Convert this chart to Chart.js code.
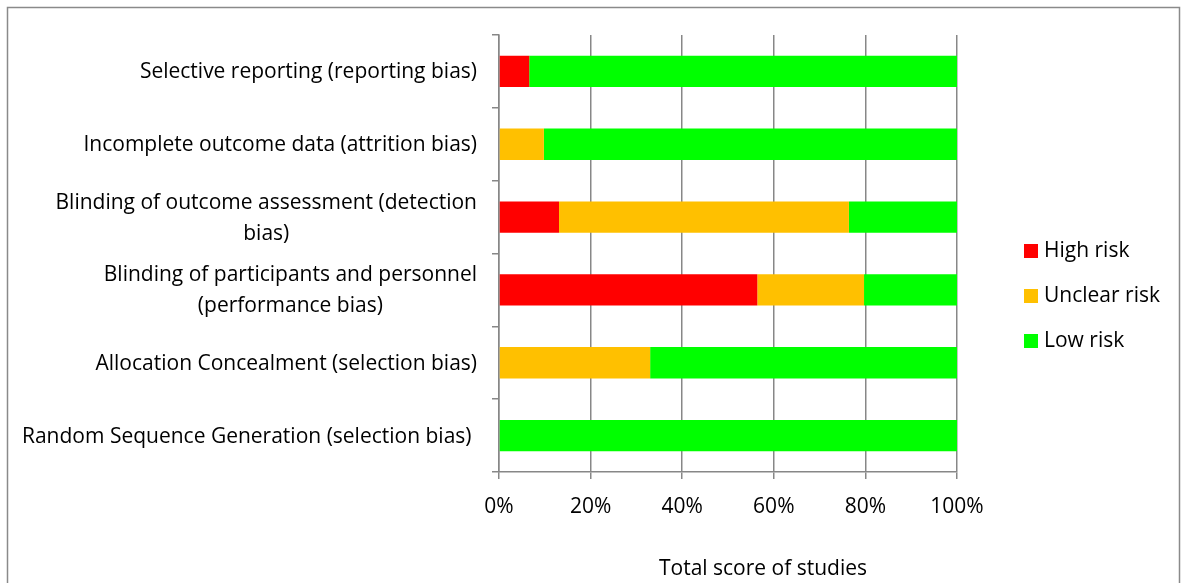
<!DOCTYPE html>
<html>
<head>
<meta charset="utf-8">
<script src="https://cdn.jsdelivr.net/npm/chart.js@4/dist/chart.umd.min.js"></script>
<style>
  html, body { margin: 0; padding: 0; background: #fff; }
  #riskChart { display: block; }
</style>
</head>
<body>
<canvas id="riskChart" width="1182" height="583"></canvas>
<script>
// domains, top to bottom
const domains = [
    'Selective reporting (reporting bias)',
    'Incomplete outcome data (attrition bias)',
    ['Blinding of outcome assessment (detection', 'bias)'],
    ['Blinding of participants and personnel', '(performance bias)'],
    'Allocation Concealment (selection bias)',
    'Random Sequence Generation (selection bias) '
];

// share of studies per judgement (%)
const highRisk    = [6.6, 0, 13.1, 56.4, 0, 0];
const unclearRisk = [0, 9.8, 63.3, 23.3, 33.0, 0];
const lowRisk     = [93.4, 90.2, 23.6, 20.3, 67.0, 100];

const percentTicks = [0, 20, 40, 60, 80, 100];
const axisTitle = 'Total score of studies';

const FONT = '"Open Sans", Carlito, Calibri, sans-serif';
const FONT_SIZE = 21;
const GRID = '#878787';

// frame, domain labels, legend and axis title
const decorations = {
    id: 'decorations',
    beforeDraw(chart) {
        const ctx = chart.ctx;
        ctx.save();
        ctx.strokeStyle = '#8a8a8a';
        ctx.lineWidth = 1.5;
        ctx.strokeRect(7.5, 7.5, 1172, 620);
        ctx.restore();
    },
    afterDraw(chart) {
        const ctx = chart.ctx;
        const yScale = chart.scales.y;
        ctx.save();
        ctx.fillStyle = '#000';
        ctx.font = FONT_SIZE + 'px ' + FONT;
        ctx.textBaseline = 'middle';
        ctx.textAlign = 'center';

        // category labels, right aligned block, lines centred
        chart.data.labels.forEach((label, i) => {
            const lines = Array.isArray(label) ? label : [label];
            const widest = Math.max(...lines.map(l => ctx.measureText(l).width));
            const cx = 477 - widest / 2;
            const yc = yScale.getPixelForValue(i) + 1;
            const step = 31;
            lines.forEach((line, k) => {
                ctx.fillText(line, cx, yc + (k - (lines.length - 1) / 2) * step);
            });
        });

        // legend
        ctx.textAlign = 'left';
        chart.data.datasets.forEach((ds, i) => {
            const y = 251 + i * 45;
            ctx.fillStyle = ds.backgroundColor;
            ctx.fillRect(1024, y - 7, 14, 14);
            ctx.fillStyle = '#000';
            ctx.fillText(ds.label, 1044, y);
        });

        // x axis title
        ctx.textAlign = 'center';
        ctx.fillText(axisTitle, 763, 569);
        ctx.restore();
    }
};

new Chart(document.getElementById('riskChart'), {
    type: 'bar',
    data: {
        labels: domains,
        datasets: [
            { label: 'High risk', data: highRisk, backgroundColor: '#ff0000' },
            { label: 'Unclear risk', data: unclearRisk, backgroundColor: '#ffc000' },
            { label: 'Low risk', data: lowRisk, backgroundColor: '#00ff00' }
        ]
    },
    options: {
        indexAxis: 'y',
        responsive: false,
        animation: false,
        devicePixelRatio: 1,
        layout: { padding: { left: 469, top: 35, right: 225, bottom: 0 } },
        datasets: {
            bar: { categoryPercentage: 1, barPercentage: 0.43, borderWidth: 0 }
        },
        plugins: {
            legend: { display: false },
            tooltip: { enabled: false }
        },
        scales: {
            x: {
                stacked: true,
                min: 0,
                max: 100,
                afterFit(scale) { scale.height = 111; },
                afterBuildTicks(scale) {
                    scale.ticks = percentTicks.map(v => ({ value: v }));
                },
                grid: { color: GRID, lineWidth: 1.5, tickLength: 7 },
                border: { color: GRID, width: 1.5 },
                ticks: {
                    padding: 15,
                    color: '#000',
                    font: { family: FONT, size: FONT_SIZE },
                    maxRotation: 0,
                    callback: v => v + '%'
                }
            },
            y: {
                stacked: true,
                afterFit(scale) { scale.width = 30; },
                grid: {
                    offset: true,
                    drawOnChartArea: false,
                    color: GRID,
                    lineWidth: 1.5,
                    tickLength: 7
                },
                border: { color: GRID, width: 1.5 },
                ticks: { display: false }
            }
        }
    },
    plugins: [decorations]
});
</script>
</body>
</html>
